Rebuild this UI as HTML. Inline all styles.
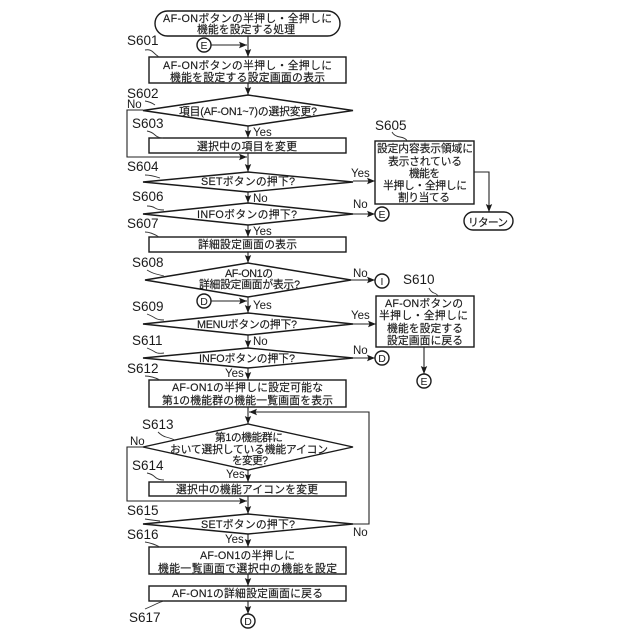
<!DOCTYPE html>
<html><head><meta charset="utf-8"><style>
html,body{margin:0;padding:0;background:#fff}
svg{display:block}
text{font-family:"Liberation Sans","Noto Sans CJK JP",sans-serif;fill:#1a1a1a}
.t{font-size:10.8px;stroke:#1a1a1a;stroke-width:.15}
.s{font-size:13.5px}
.y{font-size:11.5px}
.c{font-size:10.5px;text-anchor:middle}
.b{fill:#fff;stroke:#1a1a1a;stroke-width:1.4}
.l{fill:none;stroke:#222;stroke-width:1.1}
.q{fill:none;stroke:#333;stroke-width:.9}
</style></head><body>
<svg width="640" height="640" viewBox="0 0 640 640" xmlns="http://www.w3.org/2000/svg">
<defs><marker id="a" markerUnits="userSpaceOnUse" markerWidth="9" markerHeight="8" refX="8" refY="4" orient="auto"><path d="M0 .8L8 4L0 7.2L1.5 4Z" fill="#1a1a1a"/></marker></defs>

<!-- connectors -->
<g class="l">
<path class="l" marker-end="url(#a)" d="M248 36V57"/>
<path class="l" marker-end="url(#a)" d="M248 83V95"/>
<path class="l" marker-end="url(#a)" d="M248 126V138"/>
<path class="l" marker-end="url(#a)" d="M248 153V172"/>
<path class="l" marker-end="url(#a)" d="M248 192V203"/>
<path class="l" marker-end="url(#a)" d="M248 225V237"/>
<path class="l" marker-end="url(#a)" d="M248 252V263"/>
<path class="l" marker-end="url(#a)" d="M248 297V313"/>
<path class="l" marker-end="url(#a)" d="M248 335V348"/>
<path class="l" marker-end="url(#a)" d="M248 368V380"/>
<path class="l" marker-end="url(#a)" d="M248 407V424"/>
<path class="l" marker-end="url(#a)" d="M248 470V482"/>
<path class="l" marker-end="url(#a)" d="M248 496V514"/>
<path class="l" marker-end="url(#a)" d="M248 534V547"/>
<path class="l" marker-end="url(#a)" d="M248 574V586"/>
<path class="l" marker-end="url(#a)" d="M248 601V614"/>
<path class="l" marker-end="url(#a)" d="M211 45H247"/>
<path class="l" marker-end="url(#a)" d="M211 301H247"/>
<path class="l" marker-end="url(#a)" d="M143 110H127V157H247"/>
<path class="l" marker-end="url(#a)" d="M143 447H127V501H247"/>
<path class="l" marker-end="url(#a)" d="M353 524H369V412H249"/>
<path class="l" marker-end="url(#a)" d="M353 181H375"/>
<path class="l" marker-end="url(#a)" d="M353 214H375"/>
<path class="l" marker-end="url(#a)" d="M351 280H375"/>
<path class="l" marker-end="url(#a)" d="M353 324H376"/>
<path class="l" marker-end="url(#a)" d="M353 358H375"/>
<path class="l" marker-end="url(#a)" d="M474 172H489V212"/>
<path class="l" marker-end="url(#a)" d="M424 347V374"/>
</g>

<!-- shapes -->
<rect class="b" x="155" y="11" width="185" height="25" rx="12.5"/>
<rect class="b" x="149" y="57" width="197" height="26"/>
<polygon class="b" points="143,110.500 248,95 353,110.500 248,126"/>
<rect class="b" x="149" y="138" width="197" height="15"/>
<polygon class="b" points="143,182 248,172 353,182 248,192"/>
<polygon class="b" points="143,214 248,203 353,214 248,225"/>
<rect class="b" x="149" y="237" width="197" height="15"/>
<polygon class="b" points="145,280 248,263 351,280 248,297"/>
<polygon class="b" points="143,324 248,313 353,324 248,335"/>
<polygon class="b" points="143,358 248,348 353,358 248,368"/>
<rect class="b" x="149" y="380" width="197" height="27"/>
<polygon class="b" points="143,447 248,424 353,447 248,470"/>
<rect class="b" x="149" y="482" width="197" height="14"/>
<polygon class="b" points="143,524 248,514 353,524 248,534"/>
<rect class="b" x="149" y="547" width="197" height="27"/>
<rect class="b" x="149" y="586" width="197" height="15"/>
<rect class="b" x="375" y="141" width="99" height="63"/>
<rect class="b" x="376" y="296" width="98" height="51"/>
<rect class="b" x="464" y="212" width="49" height="18" rx="9"/>
<circle class="b" cx="204" cy="45" r="7"/>
<circle class="b" cx="204" cy="301" r="7"/>
<circle class="b" cx="382" cy="214" r="7"/>
<circle class="b" cx="382" cy="281" r="7"/>
<circle class="b" cx="382" cy="358" r="7"/>
<circle class="b" cx="424" cy="381" r="7"/>
<circle class="b" cx="248" cy="621" r="7"/>

<text class="c" x="204" y="49">E</text>
<text class="c" x="204" y="305">D</text>
<text class="c" x="382" y="218">E</text>
<text class="c" x="382" y="285">I</text>
<text class="c" x="382" y="362">D</text>
<text class="c" x="424" y="385">E</text>
<text class="c" x="248" y="625">D</text>

<!-- node text -->
<text class="t" x="163" y="22" textLength="169" lengthAdjust="spacing">AF-ONボタンの半押し・全押しに</text>
<text class="t" x="197" y="33" textLength="98" lengthAdjust="spacing">機能を設定する処理</text>
<text class="t" x="163" y="69" textLength="169" lengthAdjust="spacing">AF-ONボタンの半押し・全押しに</text>
<text class="t" x="170" y="81" textLength="155" lengthAdjust="spacing">機能を設定する設定画面の表示</text>
<text class="t" x="179" y="115" textLength="138" lengthAdjust="spacing">項目(AF-ON1~7)の選択変更?</text>
<text class="t" x="197" y="150" textLength="100" lengthAdjust="spacing">選択中の項目を変更</text>
<text class="t" x="201" y="185" textLength="94" lengthAdjust="spacing">SETボタンの押下?</text>
<text class="t" x="197" y="218" textLength="100" lengthAdjust="spacing">INFOボタンの押下?</text>
<text class="t" x="198" y="248" textLength="99" lengthAdjust="spacing">詳細設定画面の表示</text>
<text class="t" x="225" y="277" textLength="48" lengthAdjust="spacing">AF-ON1の</text>
<text class="t" x="199" y="288" textLength="101" lengthAdjust="spacing">詳細設定画面が表示?</text>
<text class="t" x="197" y="328" textLength="100" lengthAdjust="spacing">MENUボタンの押下?</text>
<text class="t" x="199" y="362" textLength="96" lengthAdjust="spacing">INFOボタンの押下?</text>
<text class="t" x="172" y="391" textLength="151" lengthAdjust="spacing">AF-ON1の半押しに設定可能な</text>
<text class="t" x="162" y="404" textLength="171" lengthAdjust="spacing">第1の機能群の機能一覧画面を表示</text>
<text class="t" x="215" y="441" textLength="68" lengthAdjust="spacing">第1の機能群に</text>
<text class="t" x="170" y="453" textLength="158" lengthAdjust="spacing">おいて選択している機能アイコン</text>
<text class="t" x="232" y="464" textLength="36" lengthAdjust="spacing">を変更?</text>
<text class="t" x="176" y="493" textLength="142" lengthAdjust="spacing">選択中の機能アイコンを変更</text>
<text class="t" x="201" y="528" textLength="94" lengthAdjust="spacing">SETボタンの押下?</text>
<text class="t" x="200" y="559" textLength="95" lengthAdjust="spacing">AF-ON1の半押しに</text>
<text class="t" x="158" y="572" textLength="179" lengthAdjust="spacing">機能一覧画面で選択中の機能を設定</text>
<text class="t" x="172" y="597" textLength="151" lengthAdjust="spacing">AF-ON1の詳細設定画面に戻る</text>
<text class="t" x="377" y="152" textLength="96" lengthAdjust="spacing">設定内容表示領域に</text>
<text class="t" x="388" y="165" textLength="74" lengthAdjust="spacing">表示されている</text>
<text class="t" x="409" y="177" textLength="31" lengthAdjust="spacing">機能を</text>
<text class="t" x="383" y="189" textLength="84" lengthAdjust="spacing">半押し・全押しに</text>
<text class="t" x="398" y="201" textLength="52" lengthAdjust="spacing">割り当てる</text>
<text class="t" x="468" y="226" textLength="40" lengthAdjust="spacing">リターン</text>
<text class="t" x="385" y="307" textLength="78" lengthAdjust="spacing">AF-ONボタンの</text>
<text class="t" x="379" y="319" textLength="89" lengthAdjust="spacing">半押し・全押しに</text>
<text class="t" x="387" y="332" textLength="76" lengthAdjust="spacing">機能を設定する</text>
<text class="t" x="387" y="344" textLength="76" lengthAdjust="spacing">設定画面に戻る</text>

<!-- step labels -->
<text class="s" x="127" y="45">S601</text>
<text class="s" x="127" y="98">S602</text>
<text class="s" x="132" y="128">S603</text>
<text class="s" x="127" y="171">S604</text>
<text class="s" x="375" y="130">S605</text>
<text class="s" x="132" y="201">S606</text>
<text class="s" x="127" y="228">S607</text>
<text class="s" x="132" y="267">S608</text>
<text class="s" x="132" y="311">S609</text>
<text class="s" x="403" y="284">S610</text>
<text class="s" x="132" y="345">S611</text>
<text class="s" x="127" y="373">S612</text>
<text class="s" x="142" y="429">S613</text>
<text class="s" x="132" y="470">S614</text>
<text class="s" x="127" y="515">S615</text>
<text class="s" x="127" y="539">S616</text>
<text class="s" x="129" y="622">S617</text>

<!-- leaders -->
<path class="q" d="M145 50Q150 49 153 52T159 57"/>
<path class="q" d="M145 101Q151 102 155 105"/>
<path class="q" d="M147 131Q152 132 155 135T163 138"/>
<path class="q" d="M145 175Q151 175 160 178"/>
<path class="q" d="M392 132Q394 136 400 137T407 141"/>
<path class="q" d="M147 206Q152 206 155 208T164 210"/>
<path class="q" d="M145 232Q151 232 159 237"/>
<path class="q" d="M147 270Q152 273 156 274T164 276"/>
<path class="q" d="M147 314Q152 316 155 318T164 320"/>
<path class="q" d="M429 288Q431 292 434 293T438 296"/>
<path class="q" d="M147 348Q152 350 155 352T164 353"/>
<path class="q" d="M145 376Q152 376 160 380"/>
<path class="q" d="M158 432Q162 436 166 437T175 440"/>
<path class="q" d="M147 473Q152 474 155 477T164 480"/>
<path class="q" d="M145 519Q151 520 160 521"/>
<path class="q" d="M145 542Q152 543 160 547"/>
<path class="q" d="M145 609Q152 606 156 604T164 601"/>

<!-- branch labels -->
<text class="y" x="127" y="108">No</text>
<text class="y" x="253" y="136">Yes</text>
<text class="y" x="351" y="177">Yes</text>
<text class="y" x="253" y="202">No</text>
<text class="y" x="353" y="208">No</text>
<text class="y" x="253" y="235">Yes</text>
<text class="y" x="353" y="277">No</text>
<text class="y" x="253" y="309">Yes</text>
<text class="y" x="351" y="319">Yes</text>
<text class="y" x="253" y="345">No</text>
<text class="y" x="353" y="354">No</text>
<text class="y" x="225" y="377">Yes</text>
<text class="y" x="130" y="445">No</text>
<text class="y" x="226" y="478">Yes</text>
<text class="y" x="353" y="536">No</text>
<text class="y" x="225" y="543">Yes</text>
</svg>
</body></html>
